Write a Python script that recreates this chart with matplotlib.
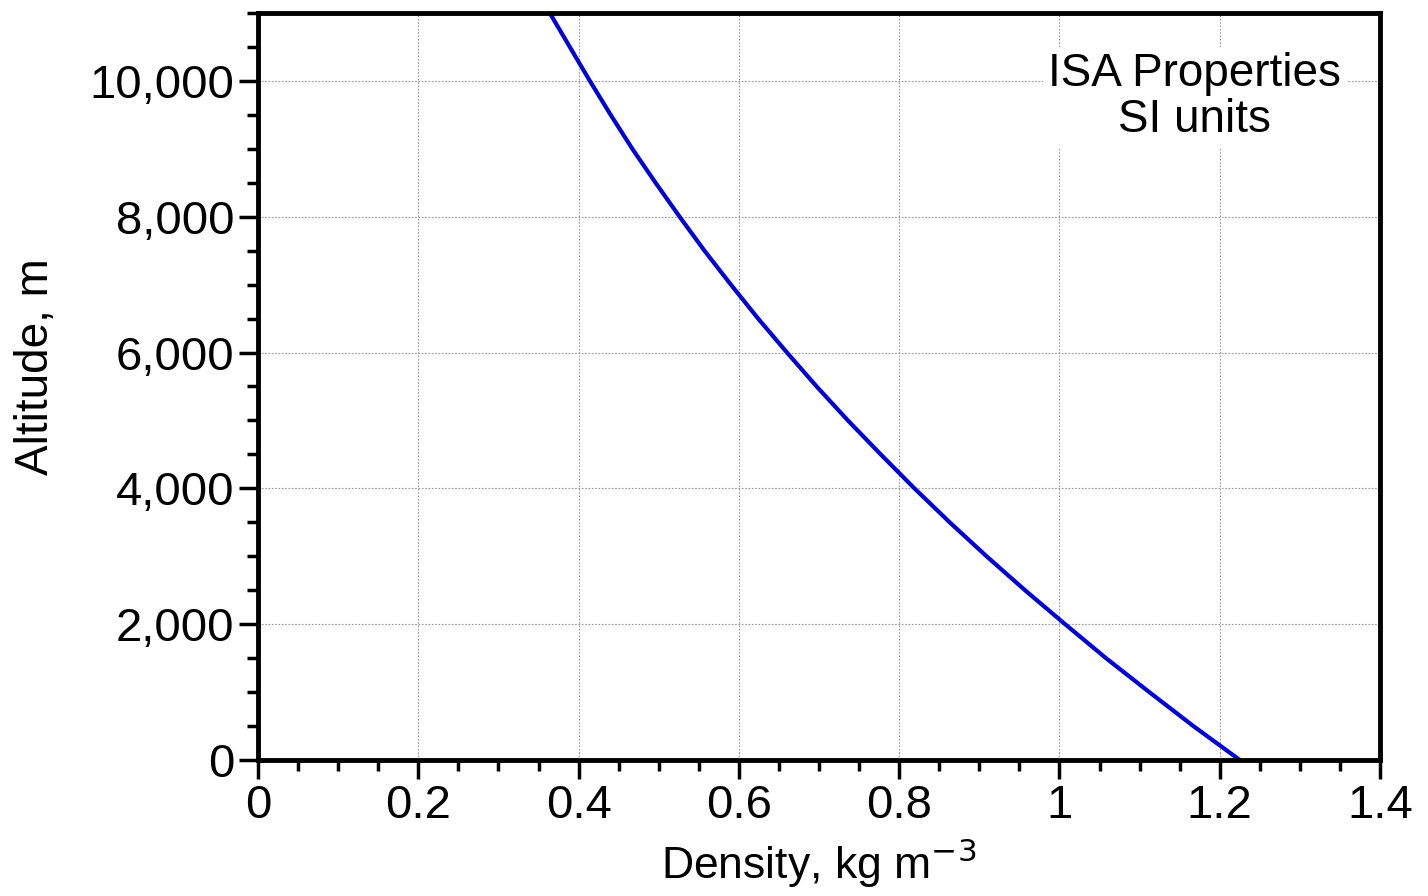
import numpy as np
import matplotlib.pyplot as plt
from matplotlib.ticker import MultipleLocator, FuncFormatter

# values
altitude_m = [0, 500, 1000, 1500, 2000, 2500, 3000, 3500, 4000, 4500, 5000, 5500,
              6000, 6500, 7000, 7500, 8000, 8500, 9000, 9500, 10000, 10500, 11000]
density_kgm3 = [1.225, 1.167, 1.112, 1.058, 1.007, 0.957, 0.909, 0.863, 0.819,
                0.777, 0.736, 0.697, 0.660, 0.624, 0.590, 0.557, 0.526, 0.496,
                0.467, 0.440, 0.414, 0.389, 0.364]

plt.rcParams['font.family'] = ['Liberation Sans', 'DejaVu Sans']

fig = plt.figure(figsize=(14.28, 8.96), dpi=100)
ax = fig.add_axes([0.1807, 0.1518, 0.9664 - 0.1807, 0.9855 - 0.1518])

ax.plot(density_kgm3, altitude_m, color='#0000d8', lw=3.0)

ax.set_xlim(0, 1.4)
ax.set_ylim(0, 11000)
ax.xaxis.set_major_locator(MultipleLocator(0.2))
ax.xaxis.set_minor_locator(MultipleLocator(0.05))
ax.yaxis.set_major_locator(MultipleLocator(2000))
ax.yaxis.set_minor_locator(MultipleLocator(500))
ax.xaxis.set_major_formatter(FuncFormatter(lambda v, p: f"{v:g}"))
ax.yaxis.set_major_formatter(FuncFormatter(lambda v, p: f"{v:,.0f}"))

ax.grid(True, which='major', color='#999999', ls=(0, (1.5, 1.5)), lw=0.8)
for s in ax.spines.values():
    s.set_linewidth(3.5)
ax.tick_params(which='major', direction='out', length=14, width=2.5,
               labelsize=34, pad=3, top=False, right=False)
ax.tick_params(which='minor', direction='out', length=8, width=2.5,
               top=False, right=False)

ax.set_xlabel('Density, kg m$^{-3}$', fontsize=32, labelpad=6)
ax.set_ylabel('Altitude, m', fontsize=33)
ax.yaxis.set_label_coords(-0.178, 0.527)

ax.text(1.169, 9760, 'ISA Properties\nSI units', fontsize=33, ha='center',
        va='center', linespacing=1.05,
        bbox=dict(facecolor='white', edgecolor='none', pad=4))

fig.savefig('out.png', dpi=100)
